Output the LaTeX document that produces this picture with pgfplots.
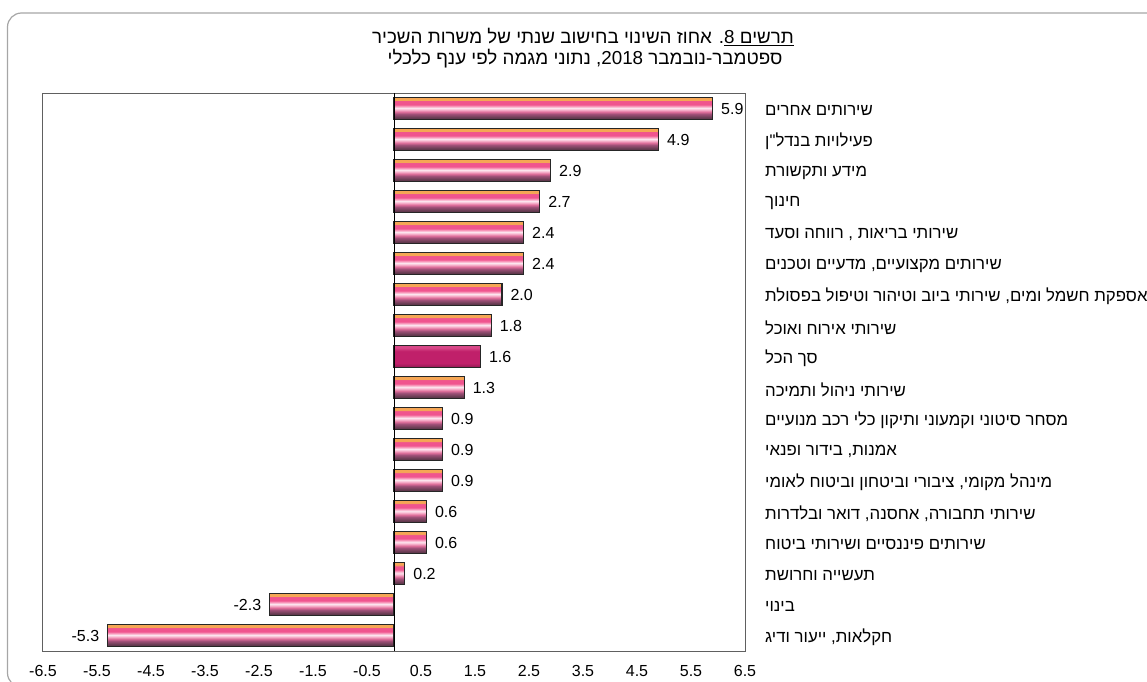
\documentclass[border=0pt]{standalone}
\usepackage{pgfplots}
\pgfplotsset{compat=1.18}
\usepackage{fontspec}
\setmainfont{Liberation Sans}
\newfontfamily\hebfont[Script=Hebrew]{Liberation Sans}
\TeXXeTstate=1

\definecolor{s0}{HTML}{503040}
\definecolor{s1}{HTML}{704058}
\definecolor{s2}{HTML}{A05078}
\definecolor{s3}{HTML}{E0709C}
\definecolor{s4}{HTML}{F8B8D0}
\definecolor{s5}{HTML}{FCE8F0}
\definecolor{s6}{HTML}{F8A0C0}
\definecolor{s7}{HTML}{F0548E}
\definecolor{s8}{HTML}{F5A655}
\definecolor{t0}{HTML}{8E1A50}
\definecolor{t1}{HTML}{C0206A}
\definecolor{t2}{HTML}{D84888}
\definecolor{axisgray}{HTML}{606060}

% tikz fits the 25bp..75bp band of a shading onto the path
\pgfdeclareverticalshading{barshade}{100bp}{
  color(0bp)=(s0); color(25bp)=(s0); color(31bp)=(s1); color(37.5bp)=(s2);
  color(42.5bp)=(s3); color(47.5bp)=(s4); color(51bp)=(s5); color(55bp)=(s6);
  color(59bp)=(s7); color(67bp)=(s7); color(69bp)=(s8); color(100bp)=(s8)}
\pgfdeclareverticalshading{totalshade}{100bp}{
  color(0bp)=(t0); color(25bp)=(t0); color(35bp)=(t1); color(62bp)=(t1);
  color(70bp)=(t2); color(100bp)=(t2)}

\pgfplotsset{
  pinkbar/.style={draw=black!85, line width=1.2pt, shade, shading=barshade},
  totalbar/.style={draw=black!85, line width=1.2pt, shade, shading=totalshade},
}

\begin{document}
\begin{tikzpicture}[x=1pt,y=1pt]
\begin{axis}[
  scale only axis, width=702pt, height=558pt,
  xmin=-6.5, xmax=6.5, ymin=-0.5, ymax=17.5,
  y dir=reverse,
  xtick={-6.5,-5.5,-4.5,-3.5,-2.5,-1.5,-0.5,0.5,1.5,2.5,3.5,4.5,5.5,6.5},
  ytick={0,...,17},
  yticklabel pos=right,
  yticklabels={
    {\hebfont\beginR שירותים אחרים\endR},
    {\hebfont\beginR פעילויות בנדל"ן\endR},
    {\hebfont\beginR מידע ותקשורת\endR},
    {\hebfont\beginR חינוך\endR},
    {\hebfont\beginR שירותי בריאות , רווחה וסעד\endR},
    {\hebfont\beginR שירותים מקצועיים, מדעיים וטכנים\endR},
    {\hebfont\beginR אספקת חשמל ומים, שירותי ביוב וטיהור וטיפול בפסולת\endR},
    {\hebfont\beginR שירותי אירוח ואוכל\endR},
    {\hebfont\beginR סך הכל\endR},
    {\hebfont\beginR שירותי ניהול ותמיכה\endR},
    {\hebfont\beginR מסחר סיטוני וקמעוני ותיקון כלי רכב מנועיים\endR},
    {\hebfont\beginR אמנות, בידור ופנאי\endR},
    {\hebfont\beginR מינהל מקומי, ציבורי וביטחון וביטוח לאומי\endR},
    {\hebfont\beginR שירותי תחבורה, אחסנה, דואר ובלדרות\endR},
    {\hebfont\beginR שירותים פיננסיים ושירותי ביטוח\endR},
    {\hebfont\beginR תעשייה וחרושת\endR},
    {\hebfont\beginR בינוי\endR},
    {\hebfont\beginR חקלאות, ייעור ודיג\endR}},
  major tick length=0pt,
  axis line style={axisgray, line width=1pt},
  yticklabel style={anchor=west, inner sep=0pt, xshift=20pt, yshift=-2pt, font=\fontsize{16.8}{20}\selectfont},
  xticklabel style={anchor=base, inner sep=0pt, yshift=-25pt, font=\fontsize{16}{19}\selectfont},
  x tick label style={/pgf/number format/.cd, fixed, precision=1, zerofill, assume math mode=true},
  xbar, bar width=22pt, bar shift=0pt,
  nodes near coords,
  nodes near coords style={font=\fontsize{16}{19}\selectfont, text=black, inner sep=8pt,
    /pgf/number format/.cd, fixed, precision=1, zerofill, assume math mode=true},
  clip=false,
]
\addplot[pinkbar] coordinates {(5.9,0)};
\addplot[pinkbar] coordinates {(4.9,1)};
\addplot[pinkbar] coordinates {(2.9,2)};
\addplot[pinkbar] coordinates {(2.7,3)};
\addplot[pinkbar] coordinates {(2.4,4)};
\addplot[pinkbar] coordinates {(2.4,5)};
\addplot[pinkbar] coordinates {(2.0,6)};
\addplot[pinkbar] coordinates {(1.8,7)};
\addplot[totalbar] coordinates {(1.6,8)};
\addplot[pinkbar] coordinates {(1.3,9)};
\addplot[pinkbar] coordinates {(0.9,10)};
\addplot[pinkbar] coordinates {(0.9,11)};
\addplot[pinkbar] coordinates {(0.9,12)};
\addplot[pinkbar] coordinates {(0.6,13)};
\addplot[pinkbar] coordinates {(0.6,14)};
\addplot[pinkbar] coordinates {(0.2,15)};
\addplot[pinkbar] coordinates {(-2.3,16)};
\addplot[pinkbar] coordinates {(-5.3,17)};
\draw[black, line width=1pt] (axis cs:0,-0.5) -- (axis cs:0,17.5);
\coordinate (AX) at (axis cs:-6.5,17.5);
\end{axis}
% page origin is 43px left of and 30px below the plot's lower left corner
\begin{scope}[shift={(AX)}, shift={(-43,-30)}]
\draw[gray!70, line width=1.2pt, rounded corners=14pt] (7.5,-6) rectangle (1175,668);
\node[font=\fontsize{18.8}{22}\selectfont] at (583,644)
  {\hebfont\beginR\underline{\beginR תרשים 8\endR}. אחוז השינוי בחישוב שנתי של משרות השכיר\endR};
\node[font=\fontsize{18.8}{22}\selectfont] at (585,622)
  {\hebfont\beginR ספטמבר-נובמבר 2018, נתוני מגמה לפי ענף כלכלי\endR};
\pgfresetboundingbox
\useasboundingbox (0,0) rectangle (1147,681);
\end{scope}
\end{tikzpicture}
\end{document}
